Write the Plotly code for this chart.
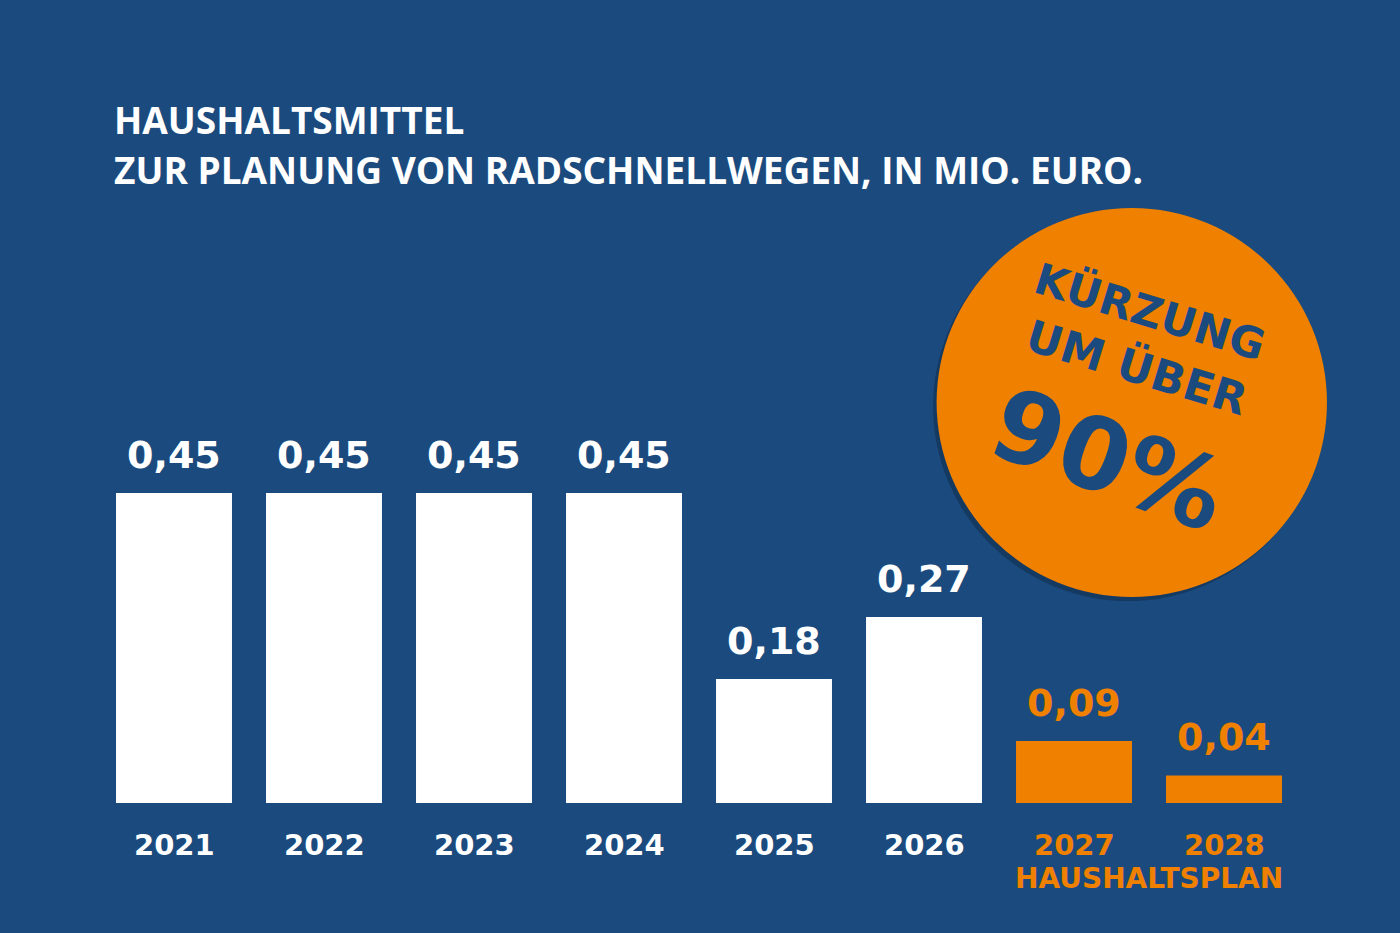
import plotly.graph_objects as go

BG = "#1B4B7E"
ORANGE = "#F08000"
WHITE = "#FFFFFF"

years = ["2021", "2022", "2023", "2024", "2025", "2026", "2027", "2028"]
budget = [0.45, 0.45, 0.45, 0.45, 0.18, 0.27, 0.09, 0.04]
planned = [False, False, False, False, False, False, True, True]

colors = [ORANGE if p else WHITE for p in planned]
labels = [f"{v:.2f}".replace(".", ",") for v in budget]

fig = go.Figure(
    go.Bar(x=years, y=budget, marker_color=colors, marker_line_width=0, hoverinfo="skip")
)

# value labels above the bars and year labels under them (category index for x)
for i, (yr, v, lab, c) in enumerate(zip(years, budget, labels, colors)):
    fig.add_annotation(x=i, y=v, text=f"<b>{lab}</b>", showarrow=False, xanchor="center",
                       yanchor="bottom", yshift=14,
                       font=dict(family="DejaVu Sans", size=38, color=c))
    fig.add_annotation(x=i, y=0, text=f"<b>{yr}</b>", showarrow=False, xanchor="center",
                       yanchor="middle", yshift=-42,
                       font=dict(family="DejaVu Sans", size=29, color=c))

fig.add_annotation(x=6.5, y=0, text="<b>HAUSHALTSPLAN</b>", showarrow=False, xanchor="center",
                   yanchor="middle", yshift=-75,
                   font=dict(family="DejaVu Sans", size=28, color=ORANGE))

# title
title_font = dict(family="Open Sans", size=37, color=WHITE)
fig.add_annotation(xref="paper", yref="paper", x=0.0108, y=0.9927, xanchor="left", yanchor="middle",
                   text="<b>HAUSHALTSMITTEL</b>", showarrow=False, font=title_font)
fig.add_annotation(xref="paper", yref="paper", x=0.0108, y=0.920, xanchor="left", yanchor="middle",
                   text="<b>ZUR PLANUNG VON RADSCHNELLWEGEN, IN MIO. EURO.</b>", showarrow=False,
                   font=title_font)

# orange badge
fig.add_shape(type="circle", xref="paper", yref="paper", x0=0.695, x1=1.0203, y0=0.293, y1=0.8576,
              fillcolor="rgba(0,0,0,0.22)", line_width=0, layer="above")
fig.add_shape(type="circle", xref="paper", yref="paper", x0=0.698, x1=1.0233, y0=0.299, y1=0.8636,
              fillcolor=ORANGE, line_width=0, layer="above")
badge_font = dict(family="DejaVu Sans", color=BG)
fig.add_annotation(xref="paper", yref="paper", x=0.876, y=0.7126, text="<b>KÜRZUNG</b>",
                   xanchor="center", yanchor="middle", textangle=17, showarrow=False,
                   font=dict(badge_font, size=43))
fig.add_annotation(xref="paper", yref="paper", x=0.865, y=0.633, text="<b>UM ÜBER</b>",
                   xanchor="center", yanchor="middle", textangle=17, showarrow=False,
                   font=dict(badge_font, size=44))
fig.add_annotation(xref="paper", yref="paper", x=0.841, y=0.498, text="<b>90%</b>",
                   xanchor="center", yanchor="middle", textangle=20, showarrow=False,
                   font=dict(badge_font, size=100))

fig.update_layout(
    width=1400,
    height=933,
    margin=dict(l=99, r=101, t=114, b=130),
    paper_bgcolor=BG,
    plot_bgcolor=BG,
    bargap=0.227,
    showlegend=False,
    xaxis=dict(type="category", range=[-0.5, 7.5], showticklabels=False, showgrid=False,
               zeroline=False, showline=False, fixedrange=True),
    yaxis=dict(range=[0, 1], showticklabels=False, showgrid=False, zeroline=False,
               showline=False, fixedrange=True),
)

fig.write_html("out.html", config={"displayModeBar": False},
               post_script="document.body.style.margin='0';")
